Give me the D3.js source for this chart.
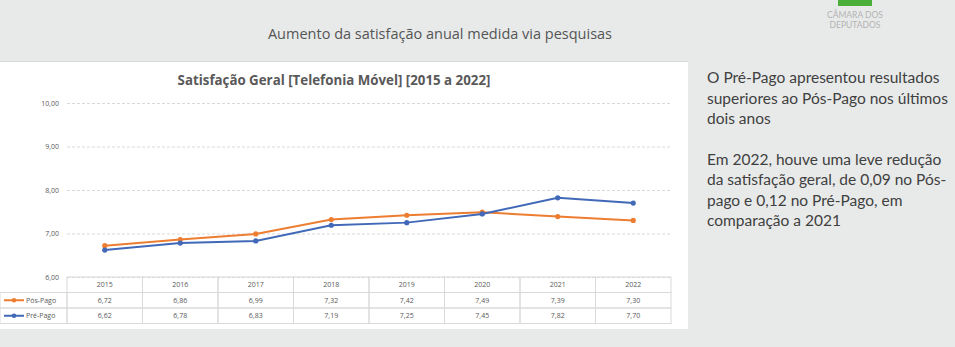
<!DOCTYPE html>
<html>
<head>
<meta charset="utf-8">
<script src="https://cdn.jsdelivr.net/npm/d3@7"></script>
<style>
  body { margin: 0; background: #e8eaea; }
  svg { display: block; font-family: "Open Sans", sans-serif; }
</style>
</head>
<body>
<svg width="955" height="347"></svg>
<script>
var years = ["2015", "2016", "2017", "2018", "2019", "2020", "2021", "2022"];
var posPago = [6.72, 6.86, 6.99, 7.32, 7.42, 7.49, 7.39, 7.30];
var prePago = [6.62, 6.78, 6.83, 7.19, 7.25, 7.45, 7.82, 7.70];
var yTicks = [6, 7, 8, 9, 10];
var seriesNames = ["Pós-Pago", "Pré-Pago"];
var seriesColors = ["#ed7d31", "#4169b8"];
var notes = [
  ["O Pré-Pago apresentou resultados", "superiores ao Pós-Pago nos últimos", "dois anos"],
  ["Em 2022, houve uma leve redução", "da satisfação geral, de 0,09 no Pós-", "pago e 0,12 no Pré-Pago, em", "comparação a 2021"]
];

var svg = d3.select("svg");
var fmt = function(v) { return d3.format(".2f")(v).replace(".", ","); };

var series = seriesNames.map(function(name, i) {
  return {
    name: name,
    color: seriesColors[i],
    values: (i === 0 ? posPago : prePago).map(function(v, j) { return { year: years[j], value: v }; })
  };
});

// slide heading
svg.append("text")
  .attr("x", 440).attr("y", 39)
  .attr("text-anchor", "middle")
  .attr("font-size", 14.5)
  .attr("fill", "#555")
  .text("Aumento da satisfação anual medida via pesquisas");

// logo
svg.append("rect").attr("x", 838).attr("y", 0).attr("width", 34).attr("height", 6).attr("fill", "#4caf3a");
svg.append("text").attr("x", 855).attr("y", 18).attr("text-anchor", "middle")
  .attr("font-family", "Lato, sans-serif")
  .attr("font-size", 8.5).attr("fill", "#b3b3b3").text("CÂMARA DOS");
svg.append("text").attr("x", 855).attr("y", 28).attr("text-anchor", "middle")
  .attr("font-family", "Lato, sans-serif")
  .attr("font-size", 8.5).attr("fill", "#b3b3b3").text("DEPUTADOS");

// notes on the right
var noteY = 83;
notes.forEach(function(block) {
  block.forEach(function(line) {
    svg.append("text")
      .attr("x", 707).attr("y", noteY)
      .attr("font-family", "Lato, sans-serif")
      .attr("font-size", 15.5)
      .attr("fill", "#404040")
      .text(line);
    noteY += 20.5;
  });
  noteY += 20;
});

// chart panel
svg.append("rect")
  .attr("x", 0).attr("y", 61).attr("width", 688).attr("height", 268)
  .attr("fill", "#fff");
svg.append("line")
  .attr("x1", 0).attr("x2", 688).attr("y1", 61.5).attr("y2", 61.5)
  .attr("stroke", "#d8d8d8");

svg.append("text")
  .attr("x", 334).attr("y", 85)
  .attr("text-anchor", "middle")
  .attr("font-size", 13.3)
  .attr("font-weight", "bold")
  .attr("fill", "#595959")
  .text("Satisfação Geral [Telefonia Móvel] [2015 a 2022]");

var x = d3.scaleBand().domain(years).range([67, 671]);
var y = d3.scaleLinear().domain([6, 10]).range([277, 103]);

var g = svg.append("g");

// y axis with dashed gridlines
var yAxis = g.append("g")
  .attr("transform", "translate(67,0)")
  .call(d3.axisLeft(y).tickValues(yTicks).tickFormat(fmt).tickSize(-604).tickPadding(8));
yAxis.select(".domain").remove();
yAxis.selectAll(".tick line")
  .attr("stroke", "#d9d9d9")
  .attr("stroke-dasharray", "3,2")
  .attr("stroke-width", 1);
yAxis.selectAll(".tick text")
  .attr("font-family", "Open Sans, sans-serif")
  .attr("font-size", 7)
  .attr("fill", "#595959");

// lines
var line = d3.line()
  .x(function(d) { return x(d.year) + x.bandwidth() / 2; })
  .y(function(d) { return y(d.value); });

var s = g.selectAll(".series").data(series).enter().append("g").attr("class", "series");
s.append("path")
  .attr("d", function(d) { return line(d.values); })
  .attr("fill", "none")
  .attr("stroke", function(d) { return d.color; })
  .attr("stroke-width", 2);
s.selectAll("circle")
  .data(function(d) { return d.values.map(function(v) { return { v: v, color: d.color }; }); })
  .enter().append("circle")
  .attr("cx", function(d) { return x(d.v.year) + x.bandwidth() / 2; })
  .attr("cy", function(d) { return y(d.v.value); })
  .attr("r", 2.6)
  .attr("fill", function(d) { return d.color; });

// data table under the plot
var rowH = 15.5, tableTop = 277;
var table = g.append("g").attr("font-size", 7).attr("fill", "#595959");
var border = "#d9d9d9";

// header row
years.forEach(function(yr) {
  table.append("rect")
    .attr("x", x(yr)).attr("y", tableTop)
    .attr("width", x.bandwidth()).attr("height", rowH)
    .attr("fill", "none").attr("stroke", border);
  table.append("text")
    .attr("x", x(yr) + x.bandwidth() / 2).attr("y", tableTop + rowH / 2 + 2.5)
    .attr("text-anchor", "middle").text(yr);
});

series.forEach(function(sr, i) {
  var ry = tableTop + rowH * (i + 1);
  table.append("rect")
    .attr("x", 0).attr("y", ry).attr("width", 67).attr("height", rowH)
    .attr("fill", "none").attr("stroke", border);
  table.append("line")
    .attr("x1", 4).attr("x2", 24).attr("y1", ry + rowH / 2).attr("y2", ry + rowH / 2)
    .attr("stroke", sr.color).attr("stroke-width", 2);
  table.append("circle")
    .attr("cx", 14).attr("cy", ry + rowH / 2).attr("r", 2.3).attr("fill", sr.color);
  table.append("text")
    .attr("x", 26).attr("y", ry + rowH / 2 + 2.5).text(sr.name);
  sr.values.forEach(function(d) {
    table.append("rect")
      .attr("x", x(d.year)).attr("y", ry)
      .attr("width", x.bandwidth()).attr("height", rowH)
      .attr("fill", "none").attr("stroke", border);
    table.append("text")
      .attr("x", x(d.year) + x.bandwidth() / 2).attr("y", ry + rowH / 2 + 2.5)
      .attr("text-anchor", "middle").text(fmt(d.value));
  });
});
</script>
</body>
</html>
